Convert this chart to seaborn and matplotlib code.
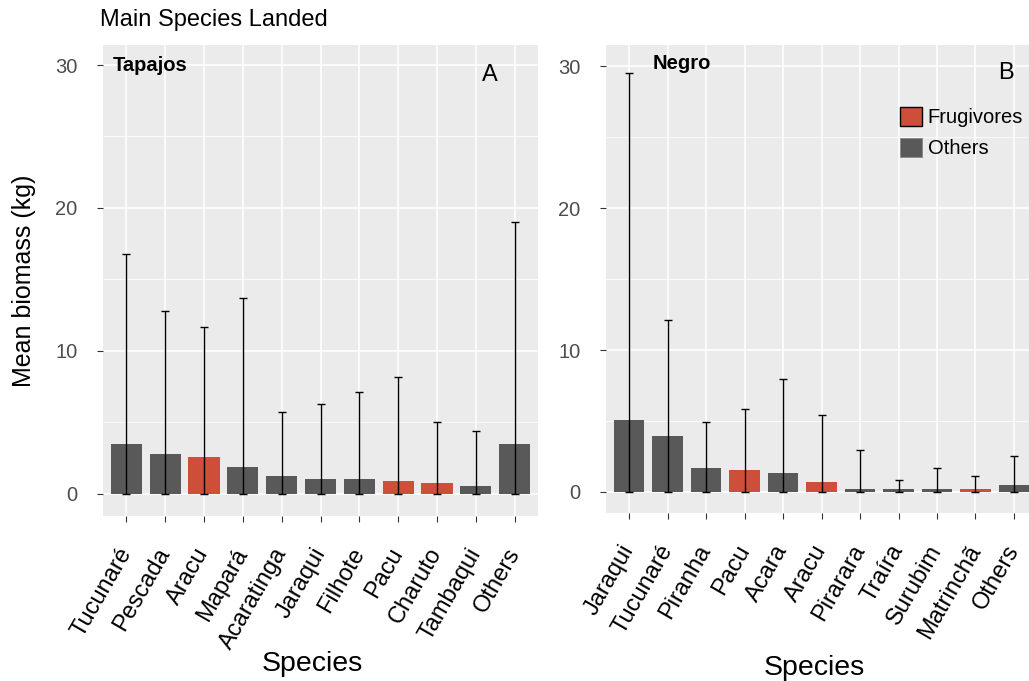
import matplotlib
matplotlib.use("Agg")
import matplotlib.pyplot as plt
from matplotlib.patches import Patch
import seaborn as sns
import pandas as pd
import numpy as np

# ---- data ----
tap_species = ["Tucunaré", "Pescada", "Aracu", "Mapará", "Acaratinga", "Jaraqui",
               "Filhote", "Pacu", "Charuto", "Tambaqui", "Others"]
tap_mean = [3.5, 2.8, 2.55, 1.85, 1.24, 1.05, 1.05, 0.91, 0.79, 0.56, 3.5]
tap_upper = [16.8, 12.8, 11.7, 13.7, 5.7, 6.3, 7.1, 8.15, 5.0, 4.4, 19.0]
tap_group = ["Others", "Others", "Frugivores", "Others", "Others", "Others",
             "Others", "Frugivores", "Frugivores", "Others", "Others"]

neg_species = ["Jaraqui", "Tucunaré", "Piranha", "Pacu", "Acara", "Aracu",
               "Pirarara", "Traíra", "Surubim", "Matrinchã", "Others"]
neg_mean = [5.05, 3.92, 1.71, 1.53, 1.36, 0.7, 0.21, 0.21, 0.21, 0.21, 0.47]
neg_upper = [29.5, 12.1, 4.93, 5.85, 7.96, 5.4, 2.98, 0.82, 1.71, 1.15, 2.53]
neg_group = ["Others", "Others", "Others", "Frugivores", "Others", "Frugivores",
             "Others", "Others", "Others", "Frugivores", "Others"]

palette = {"Frugivores": "#CD4F39", "Others": "#595959"}
hue_order = ["Frugivores", "Others"]

W, H = 1029, 681
sns.set_theme(style="darkgrid")
plt.rcParams["font.family"] = ["Liberation Sans", "DejaVu Sans"]
plt.rcParams["text.color"] = "black"
plt.rcParams["axes.labelcolor"] = "black"
fig = plt.figure(figsize=(W / 100, H / 100), dpi=100)


def px_axes(l, t, r, b):
    return fig.add_axes([l / W, 1 - b / H, (r - l) / W, (b - t) / H])


def panel(ax, species, mean, upper, group, ylim):
    df = pd.DataFrame({"Species": species, "Mean": mean, "Group": group})
    ax.set_facecolor("#EBEBEB")
    sns.barplot(data=df, x="Species", y="Mean", hue="Group", hue_order=hue_order,
                palette=palette, dodge=False, width=0.8, ax=ax, legend=False,
                errorbar=None, saturation=1, edgecolor="none", zorder=2)
    x = np.arange(len(species))
    m = np.array(mean)
    u = np.array(upper)
    ax.errorbar(x, m, yerr=[m, u - m], fmt="none", ecolor="black",
                elinewidth=1.0, capsize=2.6, capthick=1.0, zorder=3)
    ax.set_ylim(*ylim)
    ax.set_yticks([0, 10, 20, 30])
    ax.set_yticks([5, 15, 25], minor=True)
    ax.grid(which="major", color="white", linewidth=1.1)
    ax.grid(which="minor", axis="y", color="white", linewidth=0.55)
    ax.set_axisbelow(True)
    for s in ax.spines.values():
        s.set_visible(False)
    ax.tick_params(axis="y", which="major", length=4.3, width=0.8, color="#333333",
                   labelsize=14.5, labelcolor="#4D4D4D", pad=14, left=True)
    ax.tick_params(axis="y", which="minor", length=0)
    ax.tick_params(axis="x", which="major", length=4.3, width=0.8, color="#333333",
                   labelsize=17, labelcolor="black", pad=20, bottom=True)
    ax.set_xticks(x)
    ax.set_xticklabels(species, rotation=60, ha="right", va="center",
                       rotation_mode="anchor")
    ax.set_xlabel("Species", fontsize=20.5)


ax1 = px_axes(103, 45, 538, 516)
panel(ax1, tap_species, tap_mean, tap_upper, tap_group, (-1.55, 31.4))
ax1.set_xlim(-0.6, 10.6)
ax1.xaxis.set_label_coords(0.48, -0.287)
ax1.set_ylabel("Mean biomass (kg)", fontsize=18)
ax1.yaxis.set_label_coords(-0.155, 0.5)
ax1.text(-0.35, 30, "Tapajos", fontsize=14.5, fontweight="bold", ha="left", va="center")
ax1.text(9.35, 29.3, "A", fontsize=17, ha="center", va="center")

ax2 = px_axes(606, 45, 1029, 513)
panel(ax2, neg_species, neg_mean, neg_upper, neg_group, (-1.48, 31.5))
ax2.set_xlim(-0.6, 10.39)
ax2.xaxis.set_label_coords(0.492, -0.304)
ax2.set_ylabel("")
ax2.text(0.62, 30.2, "Negro", fontsize=14.5, fontweight="bold", ha="left", va="center")
ax2.text(9.8, 29.5, "B", fontsize=17, ha="center", va="center")

handles = [Patch(facecolor=palette["Frugivores"], edgecolor="black", linewidth=1.0, label="Frugivores"),
           Patch(facecolor=palette["Others"], edgecolor="#888888", linewidth=0.6, label="Others")]
leg = ax2.legend(handles=handles, loc="upper right", bbox_to_anchor=(1.005, 0.885),
                 frameon=False, fontsize=14.5, handlelength=1.05, handleheight=1.05,
                 handletextpad=0.3, labelspacing=0.55, borderaxespad=0)

fig.text(100 / W, 1 - 20 / H, "Main Species Landed", fontsize=17, ha="left", va="center")

fig.savefig("out.png", dpi=100)
